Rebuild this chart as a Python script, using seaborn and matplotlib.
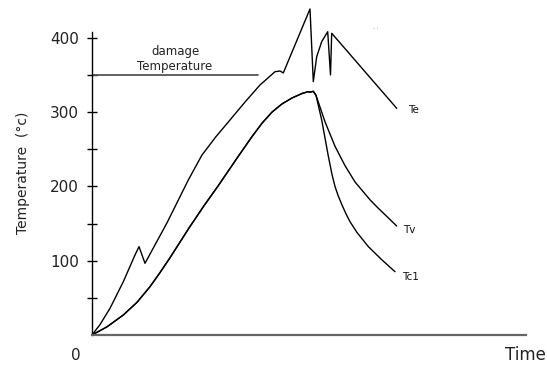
import numpy as np
import pandas as pd
import matplotlib
matplotlib.use("Agg")
import matplotlib.pyplot as plt
import seaborn as sns

# ---- data (time in arbitrary units, temperature in °C) ----
te_time = [0, 8, 18, 31.3, 43, 47, 53, 75, 96.3, 110, 124, 138, 153, 168, 176, 183, 188, 191.3,
           218, 221.3, 224.7, 229.7, 235.7, 238.5, 239.7, 304.7]
te_temp = [0, 14, 35.9, 71.7, 107.7, 118.9, 96.5, 151, 208.6, 242.3, 267, 289.4, 313.5, 336.5,
           346, 354.4, 355.3, 352.7, 438.8, 341, 374.6, 394.8, 408.2, 350, 406.1, 305.1]

rise_time = [0, 15, 31.3, 45, 58, 68, 78, 97, 112, 126.3, 145, 160, 170, 180, 190, 200, 210,
             216, 218, 221.3, 224]
rise_temp = [0, 11, 26.9, 44, 65, 84, 104, 144, 174, 201, 238, 267, 285, 300, 311, 319, 325,
             327.5, 326.8, 328, 322.6]

tv_time = [233, 243, 253, 263, 278, 284.7, 304.7]
tv_temp = [287, 254, 228, 206, 182, 172.7, 146.7]

tc1_time = [229.7, 236, 240, 243, 246, 250, 254, 258, 265, 276.3, 290, 303]
tc1_temp = [289.4, 243, 216, 200, 188, 175, 163, 152.5, 138, 119, 101, 85.2]

curve_labels = ["Te", "Tv", "Tc1"]
label_pos_time = [316, 311.3, 309.7]
label_pos_temp = [302.8, 141.3, 78.5]

damage_temp = 350
damage_end = 166

y_major = [100, 200, 300, 400]
y_minor = [50, 150, 250, 350]

# ---- figure ----
sns.set_style("white")
plt.rcParams['font.family'] = ['DejaVu Sans']

fig = plt.figure(figsize=(5.47, 3.65), dpi=100)
ax = fig.add_axes([92/547, (365-335)/365, 434/547, 450*0.743/365])

tv_full_t = rise_time + tv_time
tv_full_y = rise_temp + tv_temp
tc_full_t = rise_time + tc1_time
tc_full_y = rise_temp + tc1_temp

for t, y in [(te_time, te_temp), (tv_full_t, tv_full_y), (tc_full_t, tc_full_y)]:
    sns.lineplot(x=t, y=y, ax=ax, color="black", lw=1.0, sort=False,
                 estimator=None)

# damage temperature line
sns.lineplot(x=[0, damage_end], y=[damage_temp, damage_temp], ax=ax,
             color="#555555", lw=1.3, sort=False, estimator=None)
ax.text(83, 381, "damage", ha="center", va="center", fontsize=8.5, color="#222222")
ax.text(83, 362, "Temperature", ha="center", va="center", fontsize=8.5, color="#222222")

for lab, tx, ty in zip(curve_labels, label_pos_time, label_pos_temp):
    ax.text(tx, ty, lab, ha="left", va="center", fontsize=7.5, color="#111111")

ax.text(284, 414, ". .", ha="center", va="center", fontsize=4, color="#444444")

ax.set_xlim(0, 434)
ax.set_ylim(0, 450)

# axes styling
for s in ["top", "right"]:
    ax.spines[s].set_visible(False)
ax.spines["left"].set_bounds(0, 408)
ax.spines["left"].set_color("black")
ax.spines["left"].set_linewidth(1.0)
ax.spines["bottom"].set_color("#666666")
ax.spines["bottom"].set_linewidth(1.6)

ax.set_xticks([])
ax.set_yticks(y_major)
ax.set_yticks(y_minor, minor=True)
ax.set_yticklabels([str(v) for v in y_major])
ax.tick_params(axis="y", which="both", direction="inout", length=7, width=1.0,
               color="black", left=True)
ax.tick_params(axis="y", which="major", labelsize=11, pad=6, labelcolor="#222222")

ax.set_xlabel("")
ax.set_ylabel("")
fig.text(23/547, 1 - 173/365, "Temperature  (°c)", rotation=90, ha="center",
         va="center", fontsize=10, color="#222222")
fig.text(76/547, 1 - 356/365, "0", ha="center", va="center", fontsize=11, color="#222222")
fig.text(525/547, 1 - 355/365, "Time", ha="center", va="center", fontsize=12, color="#222222")

fig.savefig("out.png", dpi=100)
